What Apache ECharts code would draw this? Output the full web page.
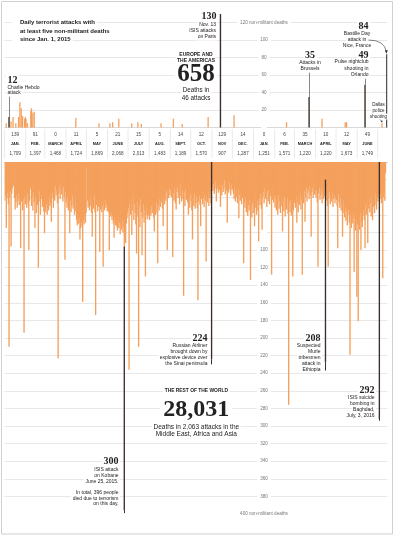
<!DOCTYPE html>
<html>
<head>
<meta charset="utf-8">
<script src="https://cdn.jsdelivr.net/npm/echarts@6/dist/echarts.min.js"></script>
<style>
  html, body { margin: 0; padding: 0; background: #fff; }
  #chart { width: 396px; height: 537px; }
</style>
</head>
<body>
<div id="chart"></div>
<script>
// one category per day, day 0 = Jan. 1, 2015, last = July 14, 2016
const dayCount = 561

const monthNames = ['JAN.', 'FEB.', 'MARCH', 'APRIL', 'MAY', 'JUNE', 'JULY', 'AUG.', 'SEPT.', 'OCT.', 'NOV', 'DEC.',
  'JAN.', 'FEB.', 'MARCH', 'APRIL', 'MAY', 'JUNE']
const monthDays = [31, 28, 31, 30, 31, 30, 31, 31, 30, 31, 30, 31, 31, 29, 31, 30, 31, 30]
const monthWest = [139, 91, 0, 11, 5, 21, 15, 5, 14, 12, 129, 14, 0, 6, 35, 10, 12, 49]
const monthRest = [1709, 1397, 1468, 1724, 1869, 2068, 2013, 1483, 1189, 1570, 907, 1287, 1251, 1571, 1220, 1220, 1673, 1749]

// Europe and the Americas: [day, deaths]
const westDaily = [[2, 5], [9, 7], [12, 12], [16, 5], [20, 12], [22, 29], [24, 22], [26, 13], [29, 10], [30, 12],
  [31, 10], [33, 5], [38, 19], [39, 22], [41, 17], [43, 18], [104, 11], [138, 5], [154, 5], [158, 6], [167, 10],
  [186, 5], [195, 6], [200, 4], [229, 5], [247, 10], [260, 4], [298, 12], [336, 14], [413, 6], [465, 10],
  [499, 6], [501, 6], [553, 5]]
// annotated attacks: Charlie Hebdo, Paris, Brussels, Orlando, Nice
const westMarked = [[6, 12], [316, 130], [446, 35], [528, 49], [560, 84]]

// rest of the world, deaths per day (other attacks of the day)
const restDaily = [
  44, 38, 75, 41, 35, 48, 210, 40, 33, 96, 36, 30, 22, 27, 41, 54, 46, 38, 52, 44, 36, 49, 40, 98, 45, 37, 55, 42, 194, 39, 48,
  40, 52, 36, 47, 100, 44, 31, 28, 50, 39, 55, 34, 46, 75, 41, 58, 37, 49, 120, 45, 33, 60, 42, 38, 51, 47, 56, 81,
  52, 57, 48, 60, 44, 55, 39, 50, 46, 68, 41, 35, 52, 30, 44, 27, 38, 33, 47, 223, 36, 29, 42, 24, 37, 31, 45, 28, 40, 111, 34,
  46, 52, 40, 55, 48, 81, 44, 57, 50, 38, 53, 47, 60, 42, 56, 66, 72, 61, 70, 64, 88, 75, 68, 73, 159, 66, 71, 62, 69, 58,
  6, 44, 52, 47, 55, 41, 50, 58, 85, 46, 53, 39, 57, 174, 49, 44, 56, 51, 48, 102, 54, 45, 57, 50, 119, 47, 55, 43, 52, 48, 56,
  50, 57, 100, 55, 62, 58, 66, 61, 70, 86, 64, 72, 67, 73, 78, 63, 75, 69, 82, 71, 77, 66, 80, 74, 96, 85, 92, 70, 64, 58,
  52, 236, 47, 60, 43, 83, 55, 39, 66, 48, 58, 71, 104, 45, 62, 210, 50, 74, 42, 57, 106, 63, 48, 69, 55, 130, 60, 52, 65, 58, 61,
  66, 54, 61, 50, 58, 47, 63, 79, 52, 60, 45, 57, 115, 49, 55, 42, 51, 38, 46, 53, 73, 40, 48, 36, 44, 33, 100, 35, 41, 30, 38,
  32, 40, 28, 108, 36, 44, 30, 47, 54, 34, 29, 41, 37, 48, 26, 39, 45, 33, 42, 152, 35, 50, 31, 43, 38, 46, 60, 40, 52, 37,
  44, 55, 88, 41, 50, 36, 53, 47, 39, 52, 157, 45, 38, 49, 73, 42, 35, 48, 40, 51, 37, 44, 113, 39, 46, 34, 50, 41, 36, 47, 0,
  28, 33, 25, 36, 30, 22, 45, 31, 27, 35, 24, 32, 51, 29, 38, 26, 34, 30, 21, 37, 28, 33, 69, 27, 35, 24, 31, 38, 26, 32,
  30, 36, 42, 29, 45, 33, 40, 47, 31, 64, 38, 44, 35, 48, 41, 37, 115, 46, 52, 40, 57, 44, 61, 49, 55, 43, 134, 50, 63, 47, 58,
  45, 73, 52, 38, 60, 44, 55, 90, 41, 49, 36, 53, 77, 40, 34, 47, 29, 42, 37, 51, 33, 45, 31, 48, 39, 35, 128, 43, 30, 46, 38,
  52, 41, 55, 47, 60, 38, 53, 45, 58, 42, 50, 79, 44, 56, 39, 62, 48, 54, 41, 59, 276, 46, 57, 43, 61, 50, 130, 55, 47,
  44, 52, 38, 69, 46, 57, 41, 49, 36, 54, 43, 128, 39, 47, 33, 68, 40, 29, 45, 35, 31, 42, 27, 38, 85, 34, 30, 41, 26, 37, 32,
  40, 33, 46, 119, 36, 29, 43, 38, 31, 47, 35, 42, 28, 39, 20, 44, 37, 50, 119, 41, 34, 48, 39, 45, 36, 51, 42, 38, 47, 40,
  43, 50, 98, 37, 46, 52, 41, 55, 48, 85, 44, 58, 63, 51, 67, 56, 72, 60, 54, 69, 219, 62, 75, 57, 70, 64, 125, 59, 78, 66, 153,
  71, 181, 63, 77, 58, 100, 68, 74, 61, 55, 66, 98, 49, 60, 44, 92, 53, 40, 57, 47, 62, 38, 66, 51, 43, 58, 36, 49, 54, 41,
  45, 38, 0, 42, 36, 47, 33, 132, 40, 35, 44, 13, 0, 0
]
// annotated attacks: Kobane, Russian airliner, Murle, Baghdad
const restMarked = [[175, 300], [303, 224], [470, 208], [549, 292]]

// where the leader lines of the notes end (in deaths)
const westLinks = [[6, 36], [446, 63], [528, 56]]
const restLinks = [[175, 399], [303, 230], [470, 237], [549, 294]]

const orange = '#f4a05c'
const dark = '#3b2f2a'
const sans = 'Liberation Sans'
const serif = 'Liberation Serif'

const days = []
for (let i = 0; i < dayCount; i++) days.push(String(i))

const westBars = days.map(() => '-')
westDaily.forEach(d => { westBars[d[0]] = d[1] })
const westDark = days.map(() => '-')
westMarked.forEach(d => { westDark[d[0]] = d[1] })

const restDark = days.map(() => '-')
restMarked.forEach(d => { restDark[d[0]] = d[1] })

const westLinkLines = westLinks.map(l => {
  const v = westMarked.find(m => m[0] === l[0])[1]
  return [{ coord: [l[0], v] }, { coord: [l[0], l[1]] }]
})
const restLinkLines = restLinks.map(l => {
  const v = restDaily[l[0]] + restMarked.find(m => m[0] === l[0])[1]
  return [{ coord: [l[0], v] }, { coord: [l[0], l[1]] }]
})

const gridLine = { show: true, showMinLine: false, showMaxLine: false, lineStyle: { color: '#e2e2e2', width: 0.8 } }
const tickLabel = {
  margin: 0, align: 'center', color: '#777', fontSize: 4.6, fontFamily: sans,
  backgroundColor: '#fff', padding: [1, 3]
}

const option = {
  animation: false,
  backgroundColor: '#fff',
  grid: [
    { left: 4.6, right: 8.8, top: 14, height: 113.5, outerBoundsMode: 'none' },
    { left: 4.6, right: 8.8, top: 162, height: 352, outerBoundsMode: 'none' }
  ],
  xAxis: [
    { type: 'category', gridIndex: 0, data: days, axisTick: { show: false }, axisLabel: { show: false },
      axisLine: { show: true, lineStyle: { color: '#cfcfcf', width: 0.8 } } },
    { type: 'category', gridIndex: 1, data: days, position: 'top', axisTick: { show: false }, axisLabel: { show: false },
      axisLine: { show: true, lineStyle: { color: '#bbb', width: 0.8 } } }
  ],
  yAxis: [
    { type: 'value', gridIndex: 0, min: 0, max: 130, interval: 20, offset: -259.4,
      axisLine: { show: false }, axisTick: { show: false }, splitLine: gridLine,
      axisLabel: Object.assign({}, tickLabel, {
        showMaxLabel: false,
        formatter: v => v === 120 ? '120 non-militant deaths' : (v > 0 && v < 120 ? String(v) : '')
      }) },
    { type: 'value', gridIndex: 1, min: 0, max: 400, interval: 20, inverse: true, offset: -259.4,
      axisLine: { show: false }, axisTick: { show: false }, splitLine: gridLine,
      axisLabel: Object.assign({}, tickLabel, {
        formatter: v => v === 400 ? '400 non-militant deaths' : (v >= 100 ? String(v) : '')
      }) }
  ],
  series: [
    { type: 'bar', xAxisIndex: 0, yAxisIndex: 0, data: westBars, barWidth: 1.3, barGap: '-100%',
      itemStyle: { color: orange } },
    { type: 'bar', xAxisIndex: 0, yAxisIndex: 0, data: westDark, barWidth: 1.4, barGap: '-100%',
      itemStyle: { color: dark },
      markLine: { silent: true, symbol: ['none', 'none'], label: { show: false },
        lineStyle: { color: '#555', width: 0.7, type: 'solid' }, data: westLinkLines } },
    { type: 'bar', xAxisIndex: 1, yAxisIndex: 1, data: restDaily, stack: 'rest', barWidth: 1.35,
      itemStyle: { color: orange } },
    { type: 'bar', xAxisIndex: 1, yAxisIndex: 1, data: restDark, stack: 'rest', barWidth: 1.35,
      itemStyle: { color: dark },
      markLine: { silent: true, symbol: ['none', 'none'], label: { show: false },
        lineStyle: { color: dark, width: 1, type: 'solid' }, data: restLinkLines } }
  ]
}

const chart = echarts.init(document.getElementById('chart'))
chart.setOption(option)

// text helper: one element per line so that each line masks the grid lines behind it
function note (x, y, text, font, align, lh, pad) {
  return text.split('\n').map((line, i) => ({
    type: 'text', z: 100, x: x, y: y + i * lh,
    style: { text: line, font: font, fill: '#222', align: align, verticalAlign: 'middle',
      backgroundColor: '#fff', padding: pad || [1, 1.5] }
  }))
}

const small = '5px ' + sans
const big = 'bold 10px ' + serif
let g = []

g.push({ type: 'rect', z: 90, shape: { x: 1.5, y: 1.5, width: 391, height: 532.5 },
  style: { fill: 'none', stroke: '#d0d0d0', lineWidth: 1 } })

g = g.concat(note(12, 22.7, 'Daily terrorist attacks with\nat least five non-militant deaths\nsince Jan. 1, 2015',
  'bold 6px ' + sans, 'left', 8.4, [1.5, 2, 1.5, 8]))

g = g.concat(note(6, 80, '12', big, 'left', 0))
g = g.concat(note(6, 87.3, 'Charlie Hebdo\nattack', small, 'left', 5.8))

g = g.concat(note(196, 55, 'EUROPE AND\nTHE AMERICAS', 'bold 5px ' + sans, 'center', 6))
g = g.concat(note(196, 74.5, '658', 'bold 25px ' + serif, 'center', 0, [0, 3]))
g = g.concat(note(196, 90.7, 'Deaths in\n46 attacks', '6.3px ' + sans, 'center', 7.5))

g = g.concat(note(218, 16.7, '130', big, 'right', 0))
g = g.concat(note(217.5, 25, 'Nov. 13\nISIS attacks\non Paris', small, 'right', 6))

g = g.concat(note(310, 55, '35', big, 'center', 0))
g = g.concat(note(310, 63, 'Attacks in\nBrussels', small, 'center', 6))

g = g.concat(note(370, 26.7, '84', big, 'right', 0))
g = g.concat(note(357, 34, 'Bastille Day\nattack in\nNice, France', small, 'center', 6))

g = g.concat(note(370, 55, '49', big, 'right', 0))
g = g.concat(note(370, 62, 'Pulse nightclub\nshooting in\nOrlando', small, 'right', 6.4))

g = g.concat(note(378.5, 105, 'Dallas\npolice\nshooting', '4.5px ' + sans, 'center', 5.8, [0.5, 1]))

// arrows to the Nice and Dallas bars
const nice = chart.convertToPixel({ gridIndex: 0 }, [560, 84])
g.push({ type: 'bezierCurve', z: 100,
  shape: { x1: 368.5, y1: 40, x2: nice[0] - 0.5, y2: nice[1] - 2, cpx1: nice[0] - 2, cpy1: 40 },
  style: { stroke: '#333', lineWidth: 0.6, fill: 'none' } })
g.push({ type: 'polygon', z: 100,
  shape: { points: [[nice[0] - 2, nice[1] - 4], [nice[0] + 1, nice[1] - 4], [nice[0] - 0.4, nice[1] - 0.5]] },
  style: { fill: '#333' } })
const dallas = chart.convertToPixel({ gridIndex: 0 }, [553, 5])
g.push({ type: 'line', z: 100, shape: { x1: dallas[0] - 2, y1: 119.5, x2: dallas[0] - 0.3, y2: dallas[1] - 1.5 },
  style: { stroke: '#333', lineWidth: 0.5 } })
g.push({ type: 'polygon', z: 100,
  shape: { points: [[dallas[0] - 1.5, dallas[1] - 2.5], [dallas[0] + 0.6, dallas[1] - 2.5], [dallas[0], dallas[1] - 0.5]] },
  style: { fill: '#333' } })

g = g.concat(note(209, 338.3, '224', big, 'right', 0))
g = g.concat(note(209, 346, 'Russian Airliner\nbrought down by\nexplosive device over\nthe Sinai peninsula', small, 'right', 6))

g = g.concat(note(322, 338.3, '208', big, 'right', 0))
g = g.concat(note(322, 346, 'Suspected\nMurle\ntribesmen\nattack in\nEthiopia', small, 'right', 5.9))

g = g.concat(note(376, 390, '292', big, 'right', 0))
g = g.concat(note(376, 397.3, 'ISIS suicide\nbombing in\nBaghdad,\nJuly, 3, 2016', small, 'right', 6))

g = g.concat(note(196.3, 391, 'THE REST OF THE WORLD', 'bold 4.9px ' + sans, 'center', 0))
g = g.concat(note(196.3, 409.5, '28,031', 'bold 24px ' + serif, 'center', 0, [0, 3]))
g = g.concat(note(196.3, 427, 'Deaths in 2,063 attacks in the\nMiddle East, Africa and Asia', '6.5px ' + sans, 'center', 7.3))

g = g.concat(note(120, 461.7, '300', big, 'right', 0))
g = g.concat(note(120, 470, 'ISIS attack\non Kobane\nJune 25, 2015.', small, 'right', 5.9))
g = g.concat(note(120, 492.3, 'In total, 396 people\ndied due to terrorism\non this day.', small, 'right', 5.9))

// month table between the two charts, placed on the day axis
const x0 = chart.convertToPixel({ xAxisIndex: 0 }, 0)
const band = chart.convertToPixel({ xAxisIndex: 0 }, 1) - x0
let start = 0
monthNames.forEach((m, i) => {
  const left = x0 - band / 2 + start * band
  const right = left + monthDays[i] * band
  const mid = (left + right) / 2
  g.push({ type: 'line', z: 50, shape: { x1: left, y1: 129, x2: left, y2: 158.5 },
    style: { stroke: '#dcdcdc', lineWidth: 0.6 } })
  g.push({ type: 'text', z: 50, x: mid, y: 135,
    style: { text: String(monthWest[i]), font: '4.6px ' + sans, fill: '#444', align: 'center', verticalAlign: 'middle' } })
  g.push({ type: 'text', z: 50, x: mid, y: 144,
    style: { text: m, font: 'bold 3.9px ' + sans, fill: '#222', align: 'center', verticalAlign: 'middle' } })
  g.push({ type: 'text', z: 50, x: mid, y: 153.5,
    style: { text: monthRest[i].toLocaleString('en-US'), font: '4.6px ' + sans, fill: '#444', align: 'center', verticalAlign: 'middle' } })
  start += monthDays[i]
  if (i === monthNames.length - 1) {
    g.push({ type: 'line', z: 50, shape: { x1: right, y1: 129, x2: right, y2: 158.5 },
      style: { stroke: '#dcdcdc', lineWidth: 0.6 } })
  }
})

chart.setOption({ graphic: g })
</script>
</body>
</html>
